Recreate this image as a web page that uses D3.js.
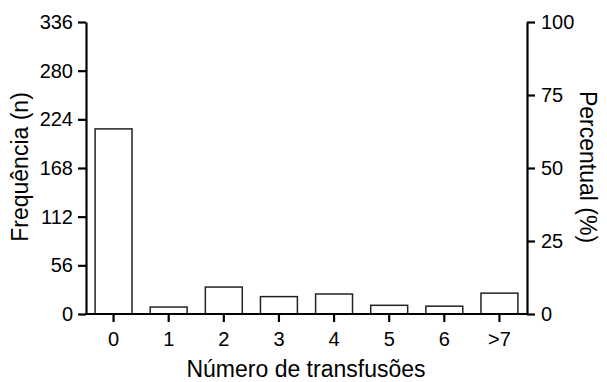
<!DOCTYPE html>
<html><head><meta charset="utf-8">
<script src="https://cdn.jsdelivr.net/npm/d3@7"></script>
<style>body{margin:0;background:#fff}svg{display:block}text{font-family:"Liberation Sans",Arial,sans-serif}</style>
</head><body><svg id="c" width="607" height="382"></svg>
<script>
const categories = ["0","1","2","3","4","5","6",">7"];
const frequencies = [213, 8, 31, 20, 23, 10, 9, 24];
const leftTicks = [0,56,112,168,224,280,336];
const rightTicks = [0,25,50,75,100];

const svg = d3.select("#c");
const L = 86, R = 527, T = 22, B = 314;
const x = d3.scaleBand().domain(categories).range([L, R]).paddingInner(0.33).paddingOuter(0.165);
const y = d3.scaleLinear().domain([0, 336]).range([B, T]);
const y2 = d3.scaleLinear().domain([0, 100]).range([B, T]);

svg.append("g").selectAll("rect").data(frequencies).join("rect")
  .attr("x", (d,i) => x(categories[i]))
  .attr("y", d => y(d))
  .attr("width", x.bandwidth())
  .attr("height", d => B - y(d))
  .attr("fill", "#fff").attr("stroke", "#222").attr("stroke-width", 1.5);

function style(g){
  g.attr("font-size", 20).attr("font-family", "Liberation Sans, Arial, sans-serif");
  g.select(".domain").attr("stroke","#000").attr("stroke-width",2.2);
  g.selectAll(".tick line").attr("stroke","#000").attr("stroke-width",2.2);
  g.selectAll(".tick text").attr("fill","#000");
}
svg.append("g").attr("transform",`translate(${L},0)`)
  .call(d3.axisLeft(y).tickValues(leftTicks).tickSize(8).tickSizeOuter(0).tickPadding(5)).call(style);
svg.append("g").attr("transform",`translate(${R},0)`)
  .call(d3.axisRight(y2).tickValues(rightTicks).tickSize(8).tickSizeOuter(0).tickPadding(6)).call(style);
const xa = svg.append("g").attr("transform",`translate(0,${B})`)
  .call(d3.axisBottom(x).tickSize(8).tickSizeOuter(0).tickPadding(10)).call(style);
xa.select(".domain").attr("d", `M${L-1},0H${R+1}`);

svg.append("text").attr("transform","translate(28,167) rotate(-90)").attr("text-anchor","middle")
  .attr("font-size",23).text("Frequência (n)");
svg.append("text").attr("transform","translate(580,167) rotate(90)").attr("text-anchor","middle")
  .attr("font-size",23).text("Percentual (%)");
svg.append("text").attr("x",306).attr("y",377).attr("text-anchor","middle")
  .attr("font-size",23).text("Número de transfusões");
</script></body></html>
